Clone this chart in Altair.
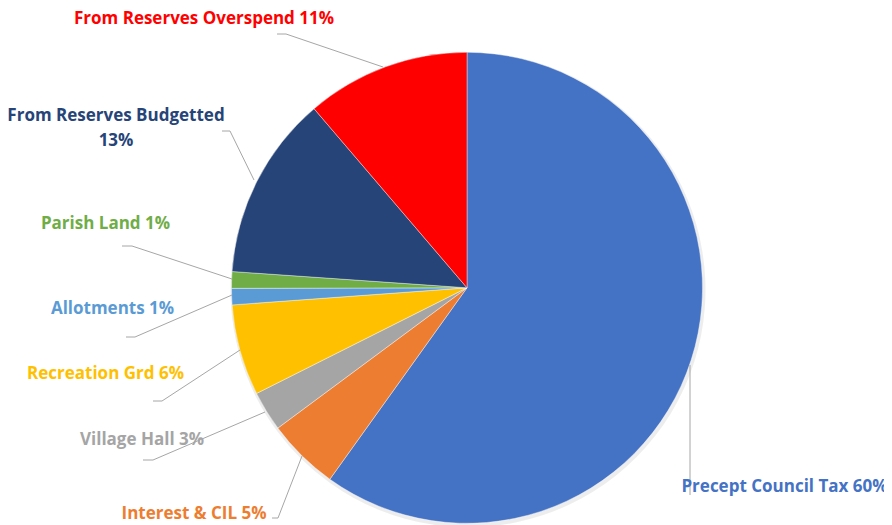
import altair as alt
import pandas as pd

# ---- data ----
categories = [
    "Precept Council Tax",
    "Interest & CIL",
    "Village Hall",
    "Recreation Grd",
    "Allotments",
    "Parish Land",
    "From Reserves Budgetted",
    "From Reserves Overspend",
]
values = [59.9, 4.95, 2.75, 6.25, 1.12, 1.14, 12.65, 11.25]
pct_labels = ["60%", "5%", "3%", "6%", "1%", "1%", "13%", "11%"]
colors = ["#4472C4", "#ED7D31", "#A5A5A5", "#FFC000", "#5B9BD5", "#70AD47", "#264478", "#FF0000"]

# ---- layout (page pixel coordinates) ----
OFF = 8
W, H = 876, 517
CX, CY, R = 467 - OFF, 287.8 - OFF, 235.5

label_xy = [(784.5, 487), (194, 514), (142, 440), (105.5, 374),
            (112.5, 309), (105.5, 224), (116, 116), (204, 19)]
label_sep = [" ", " ", " ", " ", " ", " ", "\n", " "]
leader_paths = [
    [(690, 495), (690, 365)],
    [(272, 518), (278, 518), (302, 456)],
    [(143, 460), (153, 460), (265, 412)],
    [(153, 401), (162, 401), (240, 350)],
    [(126, 337), (135, 337), (232, 295)],
    [(122, 246), (132, 246), (232, 279)],
    [(222, 131), (230, 131), (254, 180)],
    [(277, 34), (286, 34), (383, 67)],
]

pie_df = pd.DataFrame({"category": categories, "value": values, "idx": range(len(categories))})

lab_df = pd.DataFrame({
    "category": categories,
    "label": [c + s + p for c, s, p in zip(categories, label_sep, pct_labels)],
    "x": [p[0] - OFF for p in label_xy],
    "y": [p[1] - OFF for p in label_xy],
})

rows = []
for i, path in enumerate(leader_paths):
    for j, (px, py) in enumerate(path):
        rows.append({"seg": i, "ord": j, "x": px - OFF, "y": py - OFF})
lead_df = pd.DataFrame(rows)

color_scale = alt.Scale(domain=categories, range=colors)
xs = alt.Scale(domain=[0, W], range=[0, W])
ys = alt.Scale(domain=[0, H], range=[0, H])

shadow = alt.Chart(pie_df).mark_arc(outerRadius=R + 2, color="#000000", opacity=0.07).encode(
    theta=alt.Theta("value:Q", stack=True),
    order=alt.Order("idx:Q"),
    x=alt.value(CX + 1), y=alt.value(CY + 2),
)

pie = alt.Chart(pie_df).mark_arc(outerRadius=R, stroke="#ffffff", strokeWidth=0.4).encode(
    theta=alt.Theta("value:Q", stack=True),
    color=alt.Color("category:N", scale=color_scale, legend=None),
    order=alt.Order("idx:Q"),
    x=alt.value(CX), y=alt.value(CY),
)

leaders = alt.Chart(lead_df).mark_line(color="#A6A6A6", strokeWidth=1).encode(
    x=alt.X("x:Q", scale=xs, axis=None),
    y=alt.Y("y:Q", scale=ys, axis=None),
    detail="seg:N",
    order="ord:Q",
)

labels = alt.Chart(lab_df).mark_text(
    font="Open Sans", fontSize=17, fontWeight="bold", align="center",
    baseline="middle", lineBreak="\n", lineHeight=25,
).encode(
    x=alt.X("x:Q", scale=xs, axis=None),
    y=alt.Y("y:Q", scale=ys, axis=None),
    text="label:N",
    color=alt.Color("category:N", scale=color_scale, legend=None),
)

chart = alt.layer(shadow, pie, leaders, labels).properties(
    width=W, height=H, autosize=alt.AutoSizeParams(type="none"), padding=0,
).configure(background="#ffffff").configure_view(stroke=None)

chart.save("out.html", embed_options={"renderer": "svg", "actions": False})
